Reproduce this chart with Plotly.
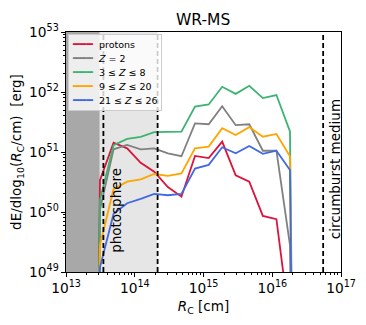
import numpy as np
import plotly.graph_objects as go

# radius bins [cm]; the first and last bins are empty
Radius = [1.98e13, 3.12e13, 4.92e13, 7.75e13, 1.22e14, 1.92e14, 3.03e14, 4.78e14,
          7.52e14, 1.19e15, 1.87e15, 2.94e15, 4.63e15, 7.30e15, 1.15e16, 1.81e16, 2.85e16]

Protons = [0, 3.4e50, 1.43e51, 1.15e51, 6.6e50, 4.7e50, 2.6e50, 1.8e50, 8.6e50,
           7.9e50, 1.49e51, 4.1e50, 3.2e50, 8.6e49, 7.6e49, 1.3e48, 0]
Helium = [0, 1.1e50, 1.11e51, 1.31e51, 1.11e51, 1.15e51, 9.5e50, 8.5e50, 3.0e51,
          2.9e51, 5.8e51, 2.8e51, 2.9e51, 1.05e51, 1.05e51, 2.8e49, 0]
CNO = [0, 1.6e50, 1.3e51, 1.65e51, 1.78e51, 2.14e51, 2.16e51, 2.19e51, 5.7e51,
       6.2e51, 1.22e52, 9.3e51, 1.27e52, 7.9e51, 8.9e51, 2.2e51, 0]
Mid = [0, 2.8e49, 2.4e50, 3.2e50, 3.5e50, 4.3e50, 4.0e50, 4.4e50, 1.15e51,
       1.23e51, 2.5e51, 1.92e51, 2.6e51, 1.8e51, 2.0e51, 8.5e50, 0]
Heavy = [0, 1.2e49, 9.3e49, 1.4e50, 1.65e50, 2.0e50, 1.9e50, 2.0e50, 5.3e50,
         6.1e50, 1.2e51, 9.5e50, 1.26e51, 9.3e50, 1.05e51, 5.0e50, 0]

Names = ['protons', '<i>Z</i> = 2', '3 ≤ <i>Z</i> ≤ 8', '9 ≤ <i>Z</i> ≤ 20', '21 ≤ <i>Z</i> ≤ 26']
Colors = ['#DC143C', '#808080', '#3CB371', '#FFA500', '#4169E1']

RStar = 3.1e13
RPhot = 3.5e13
RWind = 2.15e14
RCSM = 5.5e16

Font = 'DejaVu Sans'

fig = go.Figure()
for Series, Name, Color in zip([Protons, Helium, CNO, Mid, Heavy], Names, Colors):
    # empty bins drawn as a tiny value so the line drops off the axis like in log plots
    Values = np.where(np.array(Series) > 0, Series, 1e30)
    fig.add_trace(go.Scatter(x=Radius, y=Values, mode='lines', name=Name, showlegend=False,
                             line=dict(color=Color, width=1.8)))

fig.add_shape(type='rect', xref='x', yref='paper', x0=1e13, x1=RStar, y0=0, y1=1,
              fillcolor='#a8a8a8', line_width=0, layer='below')
fig.add_shape(type='rect', xref='x', yref='paper', x0=RStar, x1=RWind,
              y0=0, y1=1, fillcolor='#e6e6e6', line_width=0, layer='below')
for R in [RPhot, RWind, RCSM]:
    fig.add_shape(type='line', xref='x', yref='paper', x0=R, x1=R, y0=0, y1=1,
                  line=dict(color='black', width=1.8, dash='5px,3px'))

fig.add_annotation(x=13.737, y=50.03, text='photosphere', textangle=-90, showarrow=False,
                   font=dict(family=Font, size=13.5, color='black'))
fig.add_annotation(x=16.905, y=50.72, text='circumburst medium', textangle=-90, showarrow=False,
                   font=dict(family=Font, size=13.5, color='black'))

# compact legend box, matplotlib style
Rows = []
for Name, Color in zip(Names, Colors):
    Rows.append("<span style='color:%s;font-size:11px'>━━━</span>"
                "<span style='font-size:9.5px'>  %s</span>" % (Color, Name))
fig.add_annotation(xref='x domain', yref='y domain', x=0.008, y=0.992, xanchor='left', yanchor='top',
                   text='<br>'.join(Rows), align='left', showarrow=False,
                   font=dict(family=Font, size=10.8, color='black'),
                   bgcolor='rgba(255,255,255,0.8)', bordercolor='#cccccc', borderwidth=1, borderpad=3)

AxisStyle = dict(type='log', dtick=1, exponentformat='power', showgrid=False, zeroline=False,
                 showline=True, linecolor='black', linewidth=1, mirror=True,
                 ticks='outside', ticklen=4, tickcolor='black', automargin=False,
                 minor=dict(ticks='outside', ticklen=2, tickcolor='black', dtick='D1', showgrid=False),
                 tickfont=dict(family=Font, size=11, color='black'))

fig.update_xaxes(range=[13, 17], title=dict(text='<i>R</i><sub>C</sub> [cm]', standoff=6,
                 font=dict(family=Font, size=13.5, color='black')), **AxisStyle)
fig.update_yaxes(range=[49, 53], title=dict(text='dE/dlog<sub>10</sub>(<i>R</i><sub>C</sub>/cm)  [erg]',
                 standoff=10, font=dict(family=Font, size=13.5, color='black')), **AxisStyle)

# the page body adds an 8px margin, so the figure is sized to fit the window
fig.update_layout(
    width=358, height=317,
    margin=dict(l=58, r=25, t=24, b=53),
    plot_bgcolor='white', paper_bgcolor='white',
    title=dict(text='WR-MS', x=0.545, xanchor='center', y=0.962, yanchor='middle',
               font=dict(family=Font, size=15.5, color='black')),
)

fig.write_html('out.html')
